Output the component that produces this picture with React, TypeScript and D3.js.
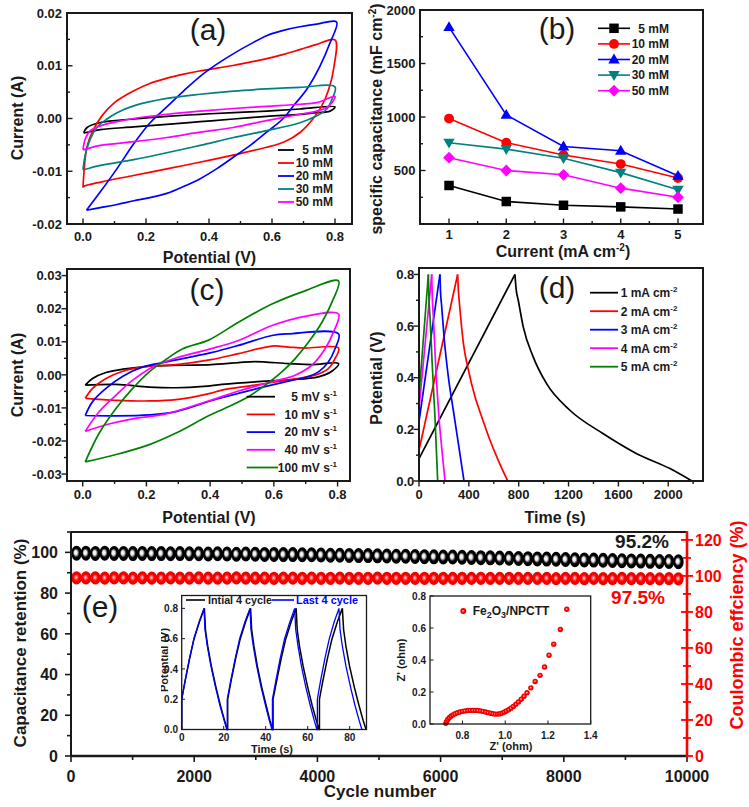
import React from "react";
import * as d3 from "d3";

const FONT = "'Liberation Sans', Arial, Helvetica, sans-serif";

// ---------------- (a) CV curves at different concentrations [V, A] ----------------
const concLabels = ["5 mM", "10 mM", "20 mM", "30 mM", "50 mM"];
const concColors = ["#000000", "#ff0000", "#0000ff", "#008080", "#ff00ff"];

const cvA5Fwd = [[0.002,-0.0027],[0.013,-0.0017],[0.055,-0.00075],[0.161,-0.0001],[0.266,0.0004],[0.372,0.0008],[0.478,0.0011],[0.583,0.0014],[0.689,0.0018],[0.8,0.0022]];
const cvA5Rev = [[0.784,0.0014],[0.742,0.0011],[0.689,0.0008],[0.583,0.0004],[0.478,-0.0001],[0.372,-0.0006],[0.266,-0.0011],[0.161,-0.0016],[0.055,-0.0021],[0.007,-0.0027]];
const cvA10Fwd = [[0.0,-0.0131],[0.004,-0.0095],[0.012,-0.0055],[0.03,-0.0025],[0.06,0.0005],[0.1,0.003],[0.16,0.0052],[0.21,0.0066],[0.27,0.0077],[0.32,0.0084],[0.37,0.009],[0.43,0.0096],[0.48,0.0101],[0.53,0.0107],[0.58,0.0113],[0.64,0.0122],[0.69,0.0131],[0.74,0.014],[0.8,0.0149]];
const cvA10Rev = [[0.797,0.0099],[0.78,0.0055],[0.758,0.0024],[0.731,0.0],[0.69,-0.0026],[0.64,-0.0044],[0.58,-0.0055],[0.48,-0.0069],[0.37,-0.0083],[0.27,-0.0095],[0.16,-0.0108],[0.06,-0.012],[0.002,-0.0129]];
const cvA20Fwd = [[0.011,-0.0174],[0.055,-0.0139],[0.108,-0.0095],[0.161,-0.0048],[0.213,-0.0008],[0.266,0.0022],[0.319,0.0052],[0.372,0.008],[0.425,0.0103],[0.478,0.0123],[0.531,0.0141],[0.583,0.0157],[0.636,0.0167],[0.689,0.0174],[0.742,0.0179],[0.805,0.0183]];
const cvA20Rev = [[0.784,0.0143],[0.752,0.0099],[0.71,0.0055],[0.668,0.0024],[0.636,0.0],[0.583,-0.0026],[0.531,-0.0051],[0.478,-0.0073],[0.425,-0.0095],[0.372,-0.0114],[0.319,-0.0129],[0.266,-0.0142],[0.213,-0.015],[0.161,-0.0156],[0.108,-0.0163],[0.055,-0.0169],[0.011,-0.0174]];
const cvA30Fwd = [[0.0,-0.0097],[0.007,-0.007],[0.023,-0.0039],[0.044,-0.0017],[0.076,-0.0001],[0.108,0.0011],[0.161,0.0024],[0.266,0.0038],[0.372,0.0046],[0.478,0.0052],[0.583,0.0056],[0.689,0.0059],[0.8,0.006]];
const cvA30Rev = [[0.79,0.0036],[0.774,0.0018],[0.742,0.0005],[0.689,-0.0008],[0.583,-0.0023],[0.478,-0.0036],[0.372,-0.0051],[0.266,-0.0065],[0.161,-0.0078],[0.055,-0.0089],[0.002,-0.0097]];
const cvA50Fwd = [[0.0,-0.0059],[0.007,-0.0039],[0.023,-0.0023],[0.055,-0.0014],[0.108,-0.0006],[0.161,0.0],[0.266,0.0008],[0.372,0.0014],[0.478,0.0019],[0.583,0.0023],[0.689,0.0027],[0.742,0.003],[0.8,0.0042]];
const cvA50Rev = [[0.79,0.003],[0.774,0.0021],[0.742,0.0014],[0.689,0.0008],[0.583,-0.0004],[0.478,-0.0017],[0.372,-0.0026],[0.266,-0.0036],[0.161,-0.0044],[0.055,-0.0051],[0.002,-0.0059]];
const cvAFwd = [cvA5Fwd, cvA10Fwd, cvA20Fwd, cvA30Fwd, cvA50Fwd];
const cvARev = [cvA5Rev, cvA10Rev, cvA20Rev, cvA30Rev, cvA50Rev];

// ---------------- (b) specific capacitance (mF cm-2) ----------------
const currentDensity = [1, 2, 3, 4, 5];
const cap5mM = [360, 210, 175, 160, 140];
const cap10mM = [985, 760, 645, 560, 430];
const cap20mM = [1840, 1020, 725, 685, 450];
const cap30mM = [760, 700, 615, 480, 320];
const cap50mM = [620, 500, 460, 335, 250];
const capSeries = [cap5mM, cap10mM, cap20mM, cap30mM, cap50mM];

// ---------------- (c) CV at different scan rates [V, A] ----------------
const rateLabels = ["5 mV s", "10 mV s", "20 mV s", "40 mV s", "100 mV s"];
const rateColors = ["#000000", "#ff0000", "#0000ff", "#ff00ff", "#008000"];
const cvC5Fwd = [[0.008,-0.0031],[0.031,-0.0011],[0.073,0.0007],[0.126,0.0017],[0.209,0.0026],[0.314,0.0029],[0.403,0.0031],[0.489,0.0037],[0.541,0.004],[0.646,0.0034],[0.719,0.0031],[0.803,0.0034]];
const cvC5Rev = [[0.782,0.0011],[0.74,-0.0006],[0.646,-0.0015],[0.541,-0.0021],[0.437,-0.0029],[0.38,-0.0035],[0.293,-0.0039],[0.209,-0.0037],[0.105,-0.0029],[0.008,-0.0031]];
const cvC10Fwd = [[0.008,-0.0071],[0.031,-0.0041],[0.073,-0.0011],[0.126,0.0011],[0.189,0.0024],[0.293,0.0031],[0.403,0.0046],[0.489,0.0064],[0.594,0.0087],[0.646,0.0084],[0.698,0.0081],[0.803,0.0081]];
const cvC10Rev = [[0.792,0.0049],[0.771,0.0019],[0.729,-0.0001],[0.646,-0.0015],[0.541,-0.0031],[0.437,-0.0046],[0.4,-0.0056],[0.293,-0.0075],[0.209,-0.0079],[0.105,-0.0077],[0.008,-0.0071]];
const cvC20Fwd = [[0.008,-0.0123],[0.031,-0.0081],[0.073,-0.0041],[0.126,-0.0004],[0.189,0.0024],[0.262,0.0039],[0.403,0.0067],[0.489,0.0089],[0.594,0.0119],[0.646,0.0124],[0.803,0.0124]];
const cvC20Rev = [[0.792,0.0079],[0.771,0.0039],[0.74,0.0009],[0.698,-0.0008],[0.646,-0.0019],[0.541,-0.0043],[0.437,-0.0069],[0.4,-0.0079],[0.293,-0.0111],[0.209,-0.0121],[0.105,-0.0124],[0.008,-0.0123]];
const cvC40Fwd = [[0.008,-0.0171],[0.052,-0.0111],[0.105,-0.0061],[0.157,-0.0016],[0.22,0.0024],[0.293,0.0051],[0.395,0.0077],[0.489,0.0104],[0.594,0.0149],[0.698,0.0177],[0.803,0.0184]];
const cvC40Rev = [[0.787,0.0129],[0.761,0.0079],[0.719,0.0029],[0.667,-0.0001],[0.594,-0.0021],[0.489,-0.0049],[0.395,-0.0079],[0.262,-0.0118],[0.157,-0.0133],[0.073,-0.0151],[0.008,-0.0171]];
const cvC100Fwd = [[0.008,-0.0263],[0.052,-0.0176],[0.105,-0.0101],[0.157,-0.0041],[0.209,0.0009],[0.262,0.0047],[0.314,0.0079],[0.395,0.0105],[0.489,0.0159],[0.594,0.0214],[0.698,0.0254],[0.803,0.0284]];
const cvC100Rev = [[0.782,0.0219],[0.751,0.0159],[0.709,0.0099],[0.667,0.0049],[0.625,0.0009],[0.573,-0.0031],[0.52,-0.0066],[0.447,-0.0101],[0.395,-0.0124],[0.293,-0.0176],[0.209,-0.0211],[0.105,-0.0241],[0.008,-0.0263]];
const cvCFwd = [cvC5Fwd, cvC10Fwd, cvC20Fwd, cvC40Fwd, cvC100Fwd];
const cvCRev = [cvC5Rev, cvC10Rev, cvC20Rev, cvC40Rev, cvC100Rev];

// ---------------- (d) GCD curves [s, V] ----------------
const gcdLabels = ["1 mA cm", "2 mA cm", "3 mA cm", "4 mA cm", "5 mA cm"];
const gcdColors = ["#000000", "#ff0000", "#0000ff", "#ff00ff", "#008000"];
const gcd1Charge = [[0, 0.087], [770, 0.8]];
const gcd1Discharge = [[770,0.8],[779,0.745],[797,0.699],[837,0.596],[917,0.48],[1024,0.377],[1211,0.274],[1479,0.183],[1747,0.106],[2014,0.048],[2190,0]];
const gcd2Charge = [[0, 0.119], [310, 0.8]];
const gcd2Discharge = [[310,0.8],[316,0.74],[329,0.664],[356,0.534],[396,0.431],[449,0.327],[503,0.249],[570,0.158],[636,0.08],[712,0]];
const gcd3Charge = [[0, 0.23], [168, 0.8]];
const gcd3Discharge = [[168,0.8],[172,0.74],[182,0.677],[203,0.547],[235,0.405],[275,0.275],[316,0.145],[361,0]];
const gcd4Charge = [[0, 0.28], [102, 0.8]];
const gcd4Discharge = [[102,0.8],[106,0.72],[115,0.638],[134,0.444],[160,0.249],[187,0.106],[209,0]];
const gcd5Charge = [[0, 0.33], [75, 0.8]];
const gcd5Discharge = [[75,0.8],[79,0.72],[88,0.638],[107,0.444],[128,0.249],[150,0]];
const gcdCharge = [gcd1Charge, gcd2Charge, gcd3Charge, gcd4Charge, gcd5Charge];
const gcdDischarge = [gcd1Discharge, gcd2Discharge, gcd3Discharge, gcd4Discharge, gcd5Discharge];

// ---------------- (e) cycling ----------------
const retention = [
  99.6,99.6,99.5,99.6,99.5,99.5,99.4,99.5,99.4,99.4,
  99.3,99.4,99.3,99.3,99.2,99.3,99.2,99.1,99.2,99.1,
  99.0,99.0,98.9,98.9,98.8,98.8,98.7,98.6,98.6,98.5,
  98.4,98.4,98.3,98.2,98.1,98.1,98.0,97.9,97.8,97.7,
  97.7,97.6,97.5,97.4,97.3,97.2,97.1,97.0,96.9,96.8,
  96.7,96.6,96.5,96.4,96.3,96.2,96.1,96.0,95.9,95.8,
  95.7,95.6,95.5,95.5,95.4];
const coulombic = [
  98.9,98.9,98.9,98.8,98.9,98.9,98.8,98.9,98.8,98.8,
  98.9,98.8,98.8,98.9,98.8,98.8,98.8,98.9,98.8,98.8,
  98.8,98.7,98.8,98.8,98.7,98.8,98.7,98.7,98.8,98.7,
  98.7,98.7,98.8,98.7,98.7,98.7,98.6,98.7,98.7,98.7,
  98.6,98.7,98.6,98.7,98.6,98.6,98.7,98.6,98.6,98.6,
  98.6,98.5,98.6,98.6,98.5,98.6,98.5,98.5,98.6,98.5,
  98.5,98.5,98.4,98.5,98.4];
const firstCycle = 90;
const lastCycle = 9860;

// inset: initial / last 4 cycles [s, V]
const initialCycles = [
  [0,0],[0,0.2],[1.6,0.32],[3.8,0.47],[5.9,0.6],[8.4,0.71],[10.8,0.8],[11.3,0.66],[12.4,0.55],[14.1,0.42],[16.3,0.28],[18.4,0.16],[20.4,0.06],[21.7,0],
  [21.9,0],[21.9,0.2],[23.5,0.32],[25.7,0.47],[27.9,0.6],[30.4,0.71],[32.8,0.8],[33.3,0.66],[34.4,0.55],[36.0,0.42],[38.1,0.28],[40.2,0.16],[42.0,0.06],[43.3,0],
  [43.5,0],[43.5,0.2],[45.2,0.32],[47.4,0.47],[49.6,0.6],[52.1,0.71],[54.5,0.8],[55.0,0.66],[56.1,0.55],[57.8,0.42],[60.0,0.28],[62.1,0.16],[64.1,0.06],[65.4,0],
  [65.6,0],[65.6,0.2],[67.2,0.32],[69.4,0.47],[71.6,0.6],[74.1,0.71],[76.5,0.8],[77.1,0.66],[78.2,0.55],[79.9,0.42],[82.2,0.28],[84.4,0.16],[86.4,0.06],[87.8,0]];
const lastCycles = [
  [0,0],[0,0.2],[1.6,0.32],[3.7,0.47],[5.8,0.6],[8.3,0.71],[10.6,0.8],[11.1,0.66],[12.2,0.55],[13.9,0.42],[16.1,0.28],[18.2,0.16],[20.2,0.06],[21.5,0],
  [21.7,0],[21.7,0.2],[23.3,0.32],[25.5,0.47],[27.6,0.6],[30.1,0.71],[32.5,0.8],[33.0,0.66],[34.1,0.55],[35.7,0.42],[37.8,0.28],[39.9,0.16],[41.7,0.06],[43.0,0],
  [43.2,0],[43.2,0.2],[44.8,0.32],[46.9,0.47],[49.0,0.6],[51.5,0.71],[53.8,0.8],[54.3,0.66],[55.4,0.55],[57.0,0.42],[59.1,0.28],[61.2,0.16],[63.1,0.06],[64.4,0],
  [64.6,0],[64.6,0.2],[66.1,0.32],[68.2,0.47],[70.3,0.6],[72.6,0.71],[74.9,0.8],[75.4,0.66],[76.5,0.55],[78.2,0.42],[80.4,0.28],[82.5,0.16],[84.5,0.06],[85.8,0]];

// inset: Nyquist [Z', -Z'']
const nyquist = [
  [0.722,0.004],[0.726,0.016],[0.731,0.028],[0.738,0.039],[0.746,0.049],[0.755,0.057],[0.765,0.064],[0.776,0.07],[0.788,0.075],[0.8,0.079],
  [0.812,0.082],[0.824,0.084],[0.836,0.085],[0.848,0.085],[0.86,0.085],[0.872,0.084],[0.884,0.082],[0.896,0.079],[0.908,0.075],[0.92,0.071],
  [0.932,0.067],[0.943,0.064],[0.954,0.062],[0.965,0.062],[0.975,0.064],[0.985,0.068],[0.995,0.074],[1.005,0.081],[1.016,0.089],[1.027,0.099],
  [1.038,0.11],[1.05,0.123],[1.062,0.138],[1.075,0.155],[1.088,0.173],[1.102,0.195],[1.12,0.226],[1.14,0.266],[1.163,0.304],[1.184,0.356],
  [1.205,0.43],[1.227,0.499],[1.258,0.591],[1.288,0.717]];

const fx = (n) => (v) => (v < 0 ? "-" : "") + Math.abs(v).toFixed(n);
const fint = (v) => String(v);
const stepRange = (a, b, s) => { const out = []; for (let v = a; v <= b + s * 1e-6; v += s) out.push(+v.toFixed(6)); return out; };

function Axes({ xs, ys, xMajor, xMinor, yMajor, yMinor, xFmt, yFmt, inward, xLabY, yLabX, yLabels, fs = 13 }) {
  const [X0, X1] = xs.range();
  const [Yb, Yt] = ys.range();
  const d = inward ? 1 : -1;
  const tk = { stroke: "#1a1a1a", strokeWidth: 1.4 };
  const yl = yLabels || yMajor;
  return (
    <g>
      {xMinor.map((v, i) => <line key={"xm" + i} x1={xs(v)} x2={xs(v)} y1={Yb} y2={Yb - d * 3} {...tk} />)}
      {xMajor.map((v, i) => <line key={"xM" + i} x1={xs(v)} x2={xs(v)} y1={Yb} y2={Yb - d * 5.5} {...tk} />)}
      {yMinor.map((v, i) => <line key={"ym" + i} x1={X0} x2={X0 + d * 3} y1={ys(v)} y2={ys(v)} {...tk} />)}
      {yMajor.map((v, i) => <line key={"yM" + i} x1={X0} x2={X0 + d * 5.5} y1={ys(v)} y2={ys(v)} {...tk} />)}
      {xMajor.map((v, i) => (
        <text key={"xl" + i} x={xs(v)} y={xLabY} textAnchor="middle" fontSize={fs} fontWeight="bold" fill="#1a1a1a">{xFmt(v)}</text>
      ))}
      {yl.map((v, i) => (
        <text key={"yl" + i} x={yLabX} y={ys(v)} dy="0.36em" textAnchor="end" fontSize={fs} fontWeight="bold" fill="#1a1a1a">{yFmt(v)}</text>
      ))}
      <rect x={X0} y={Yt} width={X1 - X0} height={Yb - Yt} fill="none" stroke="#1a1a1a" strokeWidth={2} />
    </g>
  );
}

function RotLabel({ x, y, children, fs = 16, fill = "#1a1a1a" }) {
  return (
    <text transform={`translate(${x},${y}) rotate(-90)`} textAnchor="middle" fontSize={fs} fontWeight="bold" fill={fill}>{children}</text>
  );
}

function symbolPath(i, size) {
  const s = size;
  if (i === 0) return `M${-s / 2},${-s / 2}h${s}v${s}h${-s}z`;
  if (i === 1) return d3.symbol(d3.symbolCircle, s * s * 0.85)();
  if (i === 2) return `M0,${-s * 0.62}L${s * 0.6},${s * 0.42}L${-s * 0.6},${s * 0.42}z`;
  if (i === 3) return `M0,${s * 0.62}L${s * 0.6},${-s * 0.42}L${-s * 0.6},${-s * 0.42}z`;
  return `M0,${-s * 0.62}L${s * 0.62},0L0,${s * 0.62}L${-s * 0.62},0z`;
}

export default function App() {
  const xA = d3.scaleLinear().domain([-0.0508, 0.854]).range([67, 352]);
  const yA = d3.scaleLinear().domain([-0.02, 0.02]).range([224, 13]);
  const xB = d3.scaleLinear().domain([0.493, 5.437]).range([420, 703]);
  const yB = d3.scaleLinear().domain([0, 2000]).range([224, 10]);
  const xC = d3.scaleLinear().domain([-0.0493, 0.839]).range([67, 350]);
  const yC = d3.scaleLinear().domain([-0.0321, 0.032]).range([481, 269]);
  const xD = d3.scaleLinear().domain([0, 2279]).range([419, 703]);
  const yD = d3.scaleLinear().domain([0, 0.825]).range([481, 268]);
  const xE = d3.scaleLinear().domain([0, 10000]).range([71, 687]);
  const yEL = d3.scaleLinear().domain([0, 110]).range([756, 532]);
  const yER = d3.scaleLinear().domain([0, 124.4]).range([756, 532]);
  const xI1 = d3.scaleLinear().domain([0, 88]).range([181.7, 366.5]);
  const yI1 = d3.scaleLinear().domain([0, 0.885]).range([729.5, 595.5]);
  const xI2 = d3.scaleLinear().domain([0.648, 1.4]).range([430, 590.7]);
  const yI2 = d3.scaleLinear().domain([0, 0.8]).range([724, 596]);
  const cycScale = d3.scaleLinear().domain([0, retention.length - 1]).range([firstCycle, lastCycle]);

  const cr = d3.curveCatmullRom.alpha(0.5);
  const lineA = d3.line().x((d) => xA(d[0])).y((d) => yA(d[1])).curve(cr);
  const lineB = d3.line().x((d) => xB(d[0])).y((d) => yB(d[1]));
  const lineC = d3.line().x((d) => xC(d[0])).y((d) => yC(d[1])).curve(cr);
  const lineDc = d3.line().x((d) => xD(d[0])).y((d) => yD(d[1]));
  const lineDd = d3.line().x((d) => xD(d[0])).y((d) => yD(d[1])).curve(d3.curveMonotoneX);
  const lineI1 = d3.line().x((d) => xI1(d[0])).y((d) => yI1(d[1]));

  const lw = 1.7;

  return (
    <svg width={749} height={807} style={{ position: "absolute", left: 0, top: 0, background: "#fff" }} fontFamily={FONT}>
      <defs>
        <radialGradient id="gBlack" cx="0.5" cy="0.5" r="0.5" fx="0.4" fy="0.45">
          <stop offset="0" stopColor="#ffffff" />
          <stop offset="0.28" stopColor="#e8e8e8" />
          <stop offset="0.6" stopColor="#000000" />
          <stop offset="1" stopColor="#000000" />
        </radialGradient>
        <radialGradient id="gRed" cx="0.5" cy="0.5" r="0.5" fx="0.45" fy="0.45">
          <stop offset="0" stopColor="#ffe8e8" />
          <stop offset="0.2" stopColor="#ff8080" />
          <stop offset="0.5" stopColor="#ff0000" />
          <stop offset="1" stopColor="#e80000" />
        </radialGradient>
        <clipPath id="clipI1Lab"><rect x={161} y={590} width={30} height={150} /></clipPath>
      </defs>
      <rect x={0} y={0} width={749} height={807} fill="#ffffff" />

      {/* ================= (a) ================= */}
      {cvAFwd.map((fwd, i) => (
        <path key={"a" + i} d={lineA([...fwd, ...cvARev[i], fwd[0]])} fill="none" stroke={concColors[i]} strokeWidth={lw} />
      ))}
      <Axes xs={xA} ys={yA} xMajor={stepRange(0, 0.8, 0.2)} xMinor={stepRange(0.1, 0.7, 0.2)}
        yMajor={stepRange(-0.02, 0.02, 0.01)} yMinor={stepRange(-0.015, 0.015, 0.01)}
        xFmt={fx(1)} yFmt={fx(2)} inward={true} xLabY={241} yLabX={62} />
      <text x={208} y={40} textAnchor="middle" fontSize={30} fill="#1a1a1a">(a)</text>
      <RotLabel x={23} y={118}>Current (A)</RotLabel>
      <text x={209.5} y={263} textAnchor="middle" fontSize={16} fontWeight="bold" fill="#1a1a1a">Potential (V)</text>
      {concLabels.map((l, i) => (
        <g key={"la" + i}>
          <line x1={278} x2={294} y1={150 + 13 * i} y2={150 + 13 * i} stroke={concColors[i]} strokeWidth={1.8} />
          <text x={333} y={150 + 13 * i} dy="0.36em" textAnchor="end" fontSize={12} fontWeight="bold" fill="#1a1a1a">{l}</text>
        </g>
      ))}

      {/* ================= (b) ================= */}
      {capSeries.map((s, i) => (
        <path key={"bl" + i} d={lineB(s.map((v, j) => [currentDensity[j], v]))} fill="none" stroke={concColors[i]} strokeWidth={1.6} />
      ))}
      {capSeries.map((s, i) => s.map((v, j) => (
        <path key={"bm" + i + "_" + j} d={symbolPath(i, 9.5)} transform={`translate(${xB(currentDensity[j])},${yB(v)})`} fill={concColors[i]} />
      )))}
      <Axes xs={xB} ys={yB} xMajor={currentDensity} xMinor={stepRange(1.5, 4.5, 1)}
        yMajor={stepRange(0, 2000, 500)} yMinor={stepRange(250, 1750, 500)} yLabels={[500, 1000, 1500, 2000]}
        xFmt={fint} yFmt={fint} inward={true} xLabY={238.5} yLabX={415.5} />
      <text x={557} y={39} textAnchor="middle" fontSize={30} fill="#1a1a1a">(b)</text>
      <text transform={`translate(382,119) rotate(-90)`} textAnchor="middle" fontSize={16} fontWeight="bold" fill="#1a1a1a">
        <tspan>specific capacitance (mF cm</tspan><tspan dy={-6} fontSize={10}>-2</tspan><tspan dy={6}>)</tspan>
      </text>
      <text x={563} y={257} textAnchor="middle" fontSize={16} fontWeight="bold" fill="#1a1a1a">
        <tspan>Current  (mA cm</tspan><tspan dy={-6} fontSize={10}>-2</tspan><tspan dy={6}>)</tspan>
      </text>
      {concLabels.map((l, i) => {
        const y = 28.3 + 15.6 * i;
        return (
          <g key={"lb" + i}>
            <line x1={598} x2={630} y1={y} y2={y} stroke={concColors[i]} strokeWidth={1.6} />
            <path d={symbolPath(i, 9.5)} transform={`translate(614,${y})`} fill={concColors[i]} />
            <text x={669} y={y} dy="0.36em" textAnchor="end" fontSize={12} fontWeight="bold" fill="#1a1a1a">{l}</text>
          </g>
        );
      })}

      {/* ================= (c) ================= */}
      {cvCFwd.map((fwd, i) => (
        <path key={"c" + i} d={lineC([...fwd, ...cvCRev[i], fwd[0]])} fill="none" stroke={rateColors[i]} strokeWidth={lw} />
      ))}
      <Axes xs={xC} ys={yC} xMajor={stepRange(0, 0.8, 0.2)} xMinor={stepRange(0.1, 0.7, 0.2)}
        yMajor={stepRange(-0.03, 0.03, 0.01)} yMinor={stepRange(-0.025, 0.025, 0.01)}
        xFmt={fx(1)} yFmt={fx(2)} inward={false} xLabY={498.5} yLabX={61.7} />
      <text x={207} y={300} textAnchor="middle" fontSize={30} fill="#1a1a1a">(c)</text>
      <RotLabel x={23} y={375}>Current (A)</RotLabel>
      <text x={209} y={523} textAnchor="middle" fontSize={16} fontWeight="bold" fill="#1a1a1a">Potential (V)</text>
      {rateLabels.map((l, i) => {
        const y = 396.7 + 17.7 * i;
        return (
          <g key={"lc" + i}>
            <line x1={246.7} x2={i === 4 ? 278 : 275} y1={y} y2={y} stroke={rateColors[i]} strokeWidth={1.8} />
            <text x={337} y={y} dy="0.36em" textAnchor="end" fontSize={12} fontWeight="bold" fill="#1a1a1a">
              <tspan>{l}</tspan><tspan dy={-5} fontSize={8}>-1</tspan>
            </text>
          </g>
        );
      })}

      {/* ================= (d) ================= */}
      {gcdCharge.map((c, i) => (
        <g key={"d" + i}>
          <path d={lineDc(c)} fill="none" stroke={gcdColors[i]} strokeWidth={lw} />
          <path d={lineDd(gcdDischarge[i])} fill="none" stroke={gcdColors[i]} strokeWidth={lw} />
        </g>
      ))}
      <Axes xs={xD} ys={yD} xMajor={stepRange(0, 2000, 400)} xMinor={stepRange(200, 2200, 400)}
        yMajor={stepRange(0, 0.8, 0.2)} yMinor={stepRange(0.1, 0.7, 0.2)}
        xFmt={fint} yFmt={fx(1)} inward={false} xLabY={499} yLabX={414.3} />
      <text x={557} y={298} textAnchor="middle" fontSize={30} fill="#1a1a1a">(d)</text>
      <RotLabel x={382} y={378}>Potential (V)</RotLabel>
      <text x={555} y={523} textAnchor="middle" fontSize={16} fontWeight="bold" fill="#1a1a1a">Time (s)</text>
      {gcdLabels.map((l, i) => {
        const y = 292.7 + 18.5 * i;
        return (
          <g key={"ld" + i}>
            <line x1={590} x2={618} y1={y} y2={y} stroke={gcdColors[i]} strokeWidth={1.8} />
            <text x={620.7} y={y} dy="0.36em" textAnchor="start" fontSize={12} fontWeight="bold" fill="#1a1a1a">
              <tspan>{l}</tspan><tspan dy={-5} fontSize={8}>-2</tspan>
            </text>
          </g>
        );
      })}

      {/* ================= (e) ================= */}
      {retention.map((v, i) => (
        <ellipse key={"eb" + i} cx={xE(cycScale(i))} cy={yEL(v)} rx={5.3} ry={7.5} fill="url(#gBlack)" />
      ))}
      {coulombic.map((v, i) => (
        <ellipse key={"er" + i} cx={xE(cycScale(i))} cy={yER(v)} rx={5.3} ry={6.6} fill="url(#gRed)" />
      ))}
      {stepRange(0, 10000, 2000).map((v) => (
        <g key={"ex" + v}>
          <line x1={xE(v)} x2={xE(v)} y1={756} y2={762} stroke="#1a1a1a" strokeWidth={1.6} />
          <text x={xE(v)} y={781.5} textAnchor="middle" fontSize={16} fontWeight="bold" fill="#1a1a1a">{v}</text>
        </g>
      ))}
      {stepRange(1000, 9000, 2000).map((v) => (
        <line key={"exm" + v} x1={xE(v)} x2={xE(v)} y1={756} y2={760} stroke="#1a1a1a" strokeWidth={1.6} />
      ))}
      {stepRange(0, 100, 20).map((v) => (
        <g key={"eyl" + v}>
          <line x1={65} x2={71} y1={yEL(v)} y2={yEL(v)} stroke="#1a1a1a" strokeWidth={1.6} />
          <text x={58} y={yEL(v)} dy="0.36em" textAnchor="end" fontSize={16} fontWeight="bold" fill="#1a1a1a">{v}</text>
        </g>
      ))}
      {stepRange(10, 110, 20).map((v) => (
        <line key={"eylm" + v} x1={67} x2={71} y1={yEL(v)} y2={yEL(v)} stroke="#1a1a1a" strokeWidth={1.6} />
      ))}
      {stepRange(0, 120, 20).map((v) => (
        <g key={"eyr" + v}>
          <line x1={681} x2={693} y1={yER(v)} y2={yER(v)} stroke="#ff0000" strokeWidth={1.8} />
          <text x={695} y={yER(v)} dy="0.36em" textAnchor="start" fontSize={16} fontWeight="bold" fill="#ff0000">{v}</text>
        </g>
      ))}
      {stepRange(10, 110, 20).map((v) => (
        <line key={"eyrm" + v} x1={683} x2={691} y1={yER(v)} y2={yER(v)} stroke="#ff0000" strokeWidth={1.8} />
      ))}
      <line x1={71} x2={687} y1={532} y2={532} stroke="#1a1a1a" strokeWidth={2} />
      <line x1={71} x2={71} y1={532} y2={756} stroke="#1a1a1a" strokeWidth={2} />
      <line x1={71} x2={687} y1={756} y2={756} stroke="#1a1a1a" strokeWidth={2.4} />
      <line x1={687} x2={687} y1={531} y2={757} stroke="#ff0000" strokeWidth={2.6} />
      <text x={642} y={547.5} textAnchor="middle" fontSize={19} fontWeight="bold" fill="#1a1a1a">95.2%</text>
      <text x={638} y={604} textAnchor="middle" fontSize={19} fontWeight="bold" fill="#ff0000">97.5%</text>
      <text x={100} y={617} textAnchor="middle" fontSize={30} fill="#1a1a1a">(e)</text>
      <RotLabel x={26} y={643} fs={17}>Capacitance retention (%)</RotLabel>
      <RotLabel x={743} y={625} fs={18} fill="#ff0000">Coulombic effciency (%)</RotLabel>
      <text x={380} y={797} textAnchor="middle" fontSize={17} fontWeight="bold" fill="#1a1a1a">Cycle number</text>

      {/* inset 1: GCD cycles */}
      <rect x={181.7} y={595.5} width={184.8} height={134} fill="#ffffff" />
      <path d={lineI1(initialCycles)} fill="none" stroke="#000000" strokeWidth={1.5} />
      <path d={lineI1(lastCycles)} fill="none" stroke="#0000ff" strokeWidth={1.3} />
      <rect x={181.7} y={595.5} width={184.8} height={134} fill="none" stroke="#1a1a1a" strokeWidth={1.3} />
      {stepRange(0, 80, 20).map((v) => (
        <g key={"i1x" + v}>
          <line x1={xI1(v)} x2={xI1(v)} y1={729.5} y2={726} stroke="#1a1a1a" strokeWidth={1} />
          <text x={xI1(v)} y={741} textAnchor="middle" fontSize={10} fontWeight="bold" fill="#1a1a1a">{v}</text>
        </g>
      ))}
      {stepRange(0, 0.8, 0.2).map((v, i) => (
        <g key={"i1y" + i}>
          <line x1={181.7} x2={185} y1={yI1(v)} y2={yI1(v)} stroke="#1a1a1a" strokeWidth={1} />
          <text x={178} y={yI1(v)} dy="0.36em" textAnchor="end" fontSize={10} fontWeight="bold" fill="#1a1a1a">{fx(1)(v)}</text>
        </g>
      ))}
      <g clipPath="url(#clipI1Lab)">
        <RotLabel x={168} y={660} fs={11}>Potential (V)</RotLabel>
      </g>
      <text x={272} y={753} textAnchor="middle" fontSize={11} fontWeight="bold" fill="#1a1a1a">Time (s)</text>
      <line x1={186} x2={205} y1={600} y2={600} stroke="#000000" strokeWidth={1.6} />
      <text x={208} y={600} dy="0.36em" fontSize={11} fontWeight="bold" fill="#1a1a1a" textLength={64} lengthAdjust="spacingAndGlyphs">Intial 4 cycle</text>
      <line x1={272} x2={294} y1={600} y2={600} stroke="#0000ff" strokeWidth={1.6} />
      <text x={296} y={600} dy="0.36em" fontSize={11} fontWeight="bold" fill="#0000ff" textLength={62} lengthAdjust="spacingAndGlyphs">Last 4 cycle</text>

      {/* inset 2: Nyquist */}
      <rect x={430} y={596} width={160.7} height={128} fill="#ffffff" />
      {nyquist.map((p, i) => (
        <circle key={"nq" + i} cx={xI2(p[0])} cy={yI2(p[1])} r={2.7} fill="url(#gRed)" />
      ))}
      <rect x={430} y={596} width={160.7} height={128} fill="none" stroke="#1a1a1a" strokeWidth={1.3} />
      {stepRange(0.8, 1.4, 0.2).map((v, i) => (
        <g key={"i2x" + i}>
          <line x1={xI2(v)} x2={xI2(v)} y1={724} y2={720.5} stroke="#1a1a1a" strokeWidth={1} />
          <text x={xI2(v)} y={738.5} textAnchor="middle" fontSize={10} fontWeight="bold" fill="#1a1a1a">{fx(1)(v)}</text>
        </g>
      ))}
      {stepRange(0, 0.8, 0.2).map((v, i) => (
        <g key={"i2y" + i}>
          <line x1={430} x2={433.5} y1={yI2(v)} y2={yI2(v)} stroke="#1a1a1a" strokeWidth={1} />
          <text x={426} y={yI2(v)} dy="0.36em" textAnchor="end" fontSize={10} fontWeight="bold" fill="#1a1a1a">{fx(1)(v)}</text>
        </g>
      ))}
      <RotLabel x={405} y={660} fs={11}>Z' (ohm)</RotLabel>
      <text x={511} y={750} textAnchor="middle" fontSize={11} fontWeight="bold" fill="#1a1a1a">Z' (ohm)</text>
      <circle cx={463.3} cy={611} r={3} fill="url(#gRed)" />
      <text x={472.7} y={611} dy="0.36em" fontSize={12} fontWeight="bold" fill="#1a1a1a">
        <tspan>Fe</tspan><tspan dy={3} fontSize={9}>2</tspan><tspan dy={-3}>O</tspan><tspan dy={3} fontSize={9}>3</tspan><tspan dy={-3}>/NPCTT</tspan>
      </text>
    </svg>
  );
}
